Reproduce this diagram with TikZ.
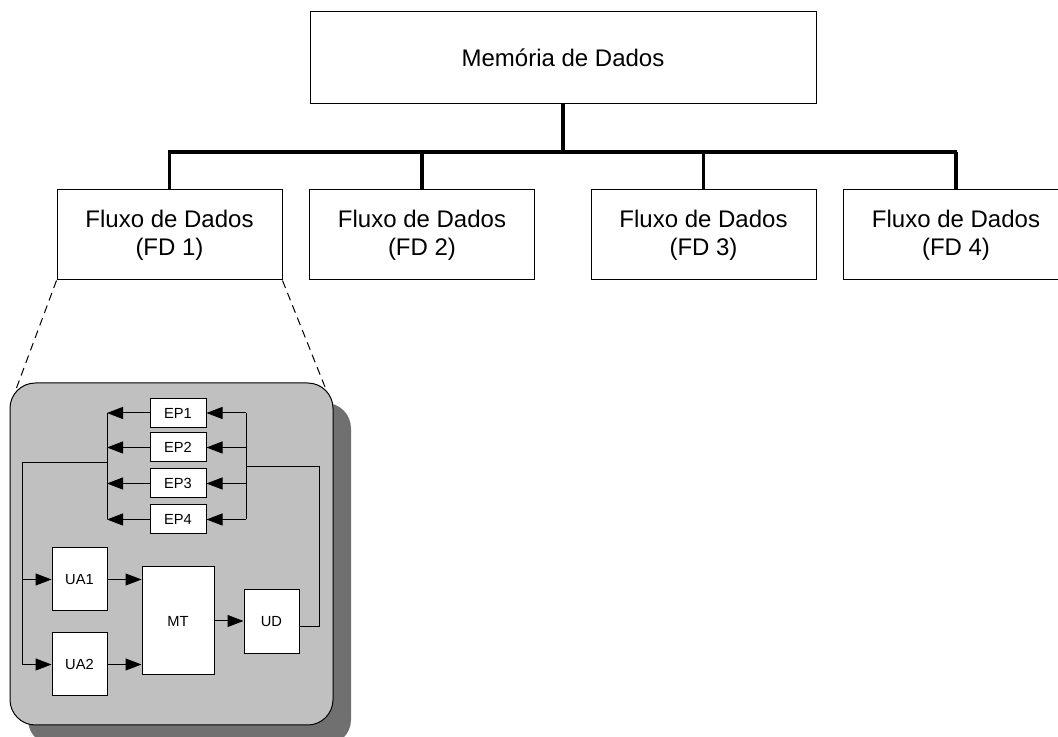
\documentclass[tikz,border=0pt]{standalone}
\usepackage{fontspec}
\setmainfont{Liberation Sans}
\usetikzlibrary{arrows.meta}
\definecolor{panelgray}{RGB}{192,192,192}
\definecolor{shadowgray}{RGB}{112,112,112}
\begin{document}
\begin{tikzpicture}[x=0.75pt,y=-0.75pt,
  box/.style={draw=black,line width=0.75pt,fill=white,rectangle,inner sep=0pt,align=center},
  bigbox/.style={box,font=\fontsize{18pt}{21pt}\selectfont},
  smallbox/.style={box,font=\fontsize{11pt}{13pt}\selectfont},
  busline/.style={line width=2.4pt},
  thin/.style={line width=0.75pt},
  arr/.style={line width=0.75pt,-{Triangle[length=12pt,width=9pt]}}]
\useasboundingbox (0,0) rectangle (1058,737);
% top level
\node[bigbox,minimum width=379.5pt,minimum height=69pt] (mem) at (563,58) {Memória de Dados};
\node[bigbox,minimum width=168.75pt,minimum height=67.5pt] (fd1) at (169.5,235) {Fluxo de Dados\\(FD 1)};
\node[bigbox,minimum width=168.75pt,minimum height=67.5pt] (fd2) at (422,235) {Fluxo de Dados\\(FD 2)};
\node[bigbox,minimum width=168.75pt,minimum height=67.5pt] (fd3) at (703.5,235) {Fluxo de Dados\\(FD 3)};
\node[bigbox,minimum width=168.75pt,minimum height=67.5pt] (fd4) at (956,235) {Fluxo de Dados\\(FD 4)};
\coordinate (busL) at (168,152);
\coordinate (busR) at (957,152);
\draw[busline] (busL) -- (busR);
\draw[busline] (mem.south) -- (mem.south |- busL);
\foreach \f in {fd1,fd2,fd3,fd4}{
  \draw[busline] (\f.north) -- (\f.north |- busL);
}
% zoom dashed lines
\coordinate (zl) at (15,392);
\coordinate (zr) at (327,392);
\draw[thin,dash pattern=on 6pt off 4pt] (fd1.south west) -- (zl);
\draw[thin,dash pattern=on 6pt off 4pt] (fd1.south east) -- (zr);
% panel with shadow
\fill[shadowgray,rounded corners=19pt] (28,403) rectangle (351,745);
\draw[thin,fill=panelgray,rounded corners=19pt] (10,383) rectangle (333,725);
% inner boxes
\node[smallbox,minimum width=42pt,minimum height=21.75pt] (ep1) at (178,413) {EP1};
\node[smallbox,minimum width=42pt,minimum height=21.75pt] (ep2) at (178,447.5) {EP2};
\node[smallbox,minimum width=42pt,minimum height=21.75pt] (ep3) at (178,483.5) {EP3};
\node[smallbox,minimum width=42pt,minimum height=21.75pt] (ep4) at (178,519.5) {EP4};
\node[smallbox,minimum width=41.25pt,minimum height=47.25pt] (ua1) at (79.5,579.5) {UA1};
\node[smallbox,minimum width=41.25pt,minimum height=47.25pt] (ua2) at (79.5,664.5) {UA2};
\node[smallbox,minimum width=54pt,minimum height=81pt] (mt) at (178,621) {MT};
\node[smallbox,minimum width=41.25pt,minimum height=48pt] (ud) at (271.5,622) {UD};
% buses around EPs
\coordinate (lb) at (107,0);
\coordinate (rb) at (246,0);
\draw[thin] (ep1.west -| lb) -- (ep4.west -| lb);
\draw[thin] (ep1.east -| rb) -- (ep4.east -| rb);
\foreach \e in {ep1,ep2,ep3,ep4}{
  \draw[arr] (\e.west) -- (\e.west -| lb);
  \draw[arr] (\e.east -| rb) -- (\e.east);
}
% feedback from UD to EP inputs
\coordinate (fbA) at (246,467);
\coordinate (fbB) at (319,467);
\coordinate (fbC) at (319,627);
\draw[thin] (fbA) -- (fbB) -- (fbC) -- (fbC -| ud.east);
% EP outputs to UAs
\coordinate (oA) at (107,463);
\coordinate (oB) at (22,463);
\draw[thin] (oA) -- (oB) -- (oB |- ua2.west);
\draw[arr] (oB |- ua1.west) -- (ua1.west);
\draw[arr] (oB |- ua2.west) -- (ua2.west);
% UAs to MT, MT to UD
\draw[arr] (ua1.east) -- (ua1.east -| mt.west);
\draw[arr] (ua2.east) -- (ua2.east -| mt.west);
\draw[arr] (mt.east) -- (mt.east -| ud.west);
\end{tikzpicture}
\end{document}
